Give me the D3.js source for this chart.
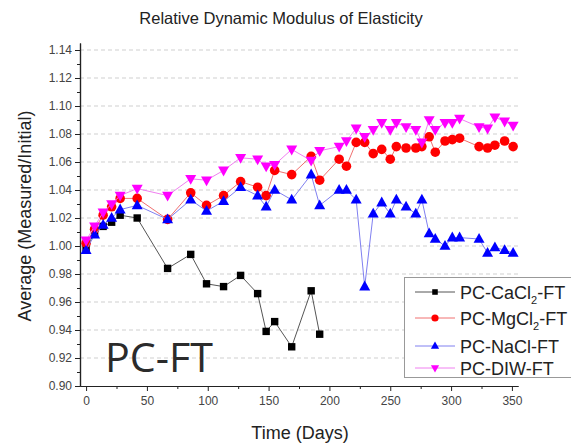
<!DOCTYPE html>
<html>
<head>
<meta charset="utf-8">
<script src="https://cdn.jsdelivr.net/npm/d3@7"></script>
<style>
  html, body { margin: 0; padding: 0; background: #fff; }
  svg { display: block; font-family: Arial, "Liberation Sans", sans-serif; }
</style>
</head>
<body>
<svg id="chart" width="571" height="446"></svg>
<script>
// ---- data ----
const days = [0, 7, 14, 21, 28, 42, 67, 86, 99, 113, 127, 141, 148, 155, 169, 185, 192, 208, 214, 222, 229, 236, 243, 250, 255, 263, 271, 276, 282, 287, 295, 301, 307, 323, 330, 336, 344, 351];
const caCl2 = [0.999, 1.009, 1.014, 1.017, 1.022, 1.020, 0.984, 0.994, 0.973, 0.971, 0.979, 0.966, 0.939, 0.946, 0.928, 0.968, 0.937];
const mgCl2 = [1.002, 1.012, 1.022, 1.028, 1.034, 1.034, 1.019, 1.038, 1.029, 1.036, 1.046, 1.042, 1.036, 1.054, 1.051, 1.064, 1.047, 1.062, 1.057, 1.074, 1.074, 1.066, 1.069, 1.062, 1.071, 1.070, 1.070, 1.071, 1.078, 1.067, 1.075, 1.076, 1.077, 1.071, 1.070, 1.072, 1.075, 1.071];
const naCl = [0.997, 1.008, 1.015, 1.020, 1.026, 1.029, 1.019, 1.033, 1.025, 1.032, 1.042, 1.036, 1.028, 1.040, 1.033, 1.051, 1.029, 1.040, 1.040, 1.033, 0.971, 1.023, 1.031, 1.023, 1.033, 1.028, 1.023, 1.033, 1.009, 1.005, 1.000, 1.006, 1.006, 1.005, 0.995, 0.999, 0.997, 0.995];
const diw = [1.004, 1.014, 1.024, 1.030, 1.036, 1.041, 1.036, 1.048, 1.047, 1.054, 1.063, 1.062, 1.057, 1.058, 1.069, 1.061, 1.068, 1.071, 1.075, 1.084, 1.078, 1.083, 1.088, 1.083, 1.088, 1.085, 1.083, 1.074, 1.090, 1.083, 1.088, 1.088, 1.091, 1.085, 1.084, 1.092, 1.089, 1.086];
const seriesNames = ["PC-CaCl|2|-FT", "PC-MgCl|2|-FT", "PC-NaCl-FT", "PC-DIW-FT"];
const yTicks = [0.90, 0.92, 0.94, 0.96, 0.98, 1.00, 1.02, 1.04, 1.06, 1.08, 1.10, 1.12, 1.14];
const xTicks = [0, 50, 100, 150, 200, 250, 300, 350];

const series = [
  { name: seriesNames[0], values: caCl2, fill: "#000000", line: "#555555", shape: "square" },
  { name: seriesNames[1], values: mgCl2, fill: "#ff0000", line: "#f07070", shape: "circle" },
  { name: seriesNames[2], values: naCl,  fill: "#0000ff", line: "#8080f0", shape: "triangle" },
  { name: seriesNames[3], values: diw,   fill: "#ff00ff", line: "#f080f0", shape: "triangleDown" }
];

const svg = d3.select("#chart");
const x = d3.scaleLinear().domain([-5, 355]).range([80, 518]);
const y = d3.scaleLinear().domain([0.9, 1.145]).range([386, 43]);

// title
svg.append("text").attr("x", 281).attr("y", 24).attr("text-anchor", "middle")
  .attr("font-size", 16.5).attr("fill", "#222").text("Relative Dynamic Modulus of Elasticity");

// gridlines
svg.append("g").selectAll("line").data(yTicks.filter(d => d > 0.9)).join("line")
  .attr("x1", x(-5)).attr("x2", x(355))
  .attr("y1", d => y(d)).attr("y2", d => y(d))
  .attr("stroke", "#cfcfcf").attr("stroke-width", 1).attr("stroke-dasharray", "4,3");

// axes
const yMinor = d3.range(0.91, 1.14, 0.02);
const xMinor = d3.range(25, 355, 50);
const gy = svg.append("g").attr("transform", `translate(${x(-5)},0)`)
  .call(d3.axisLeft(y).tickValues(yMinor).tickSize(3).tickFormat("").tickSizeOuter(0));
const gy2 = svg.append("g").attr("transform", `translate(${x(-5)},0)`)
  .call(d3.axisLeft(y).tickValues(yTicks).tickSize(5).tickPadding(3).tickFormat(d3.format(".2f")).tickSizeOuter(0));
const gx = svg.append("g").attr("transform", `translate(0,${y(0.9)})`)
  .call(d3.axisBottom(x).tickValues(xMinor).tickSize(3).tickFormat("").tickSizeOuter(0));
const gx2 = svg.append("g").attr("transform", `translate(0,${y(0.9)})`)
  .call(d3.axisBottom(x).tickValues(xTicks).tickSize(5).tickPadding(5).tickSizeOuter(0));
[gy, gy2, gx, gx2].forEach(g => {
  g.selectAll("path").attr("stroke", "#222").attr("stroke-width", 1.2);
  g.selectAll("line").attr("stroke", "#222");
  g.selectAll("text").attr("font-size", 12).attr("fill", "#444").attr("font-family", "Arial, 'Liberation Sans', sans-serif");
});

// axis labels
svg.append("text").attr("x", 300).attr("y", 439).attr("text-anchor", "middle")
  .attr("font-size", 18).attr("fill", "#222").text("Time (Days)");
svg.append("text").attr("transform", "translate(31,216) rotate(-90)").attr("text-anchor", "middle")
  .attr("font-size", 18).attr("fill", "#222").text("Average (Measured/Initial)");

// marker drawing
function drawMarker(sel, shape, fill, k) {
  if (shape === "square") {
    sel.append("rect").attr("x", -3.7 * k).attr("y", -3.7 * k).attr("width", 7.4 * k).attr("height", 7.4 * k).attr("fill", fill);
  } else if (shape === "circle") {
    sel.append("circle").attr("r", 4.8 * k).attr("fill", fill);
  } else if (shape === "triangle") {
    sel.append("path").attr("d", `M0,${-6 * k}L${5.5 * k},${3.8 * k}L${-5.5 * k},${3.8 * k}Z`).attr("fill", fill);
  } else {
    sel.append("path").attr("d", `M0,${6 * k}L${5.5 * k},${-3.8 * k}L${-5.5 * k},${-3.8 * k}Z`).attr("fill", fill);
  }
}

const line = d3.line().x(d => x(d[0])).y(d => y(d[1]));
series.forEach(s => {
  const pts = s.values.map((v, i) => [days[i], v]);
  svg.append("path").datum(pts).attr("d", line).attr("fill", "none")
    .attr("stroke", s.line).attr("stroke-width", 1);
  const g = svg.append("g");
  pts.forEach(p => {
    const m = g.append("g").attr("transform", `translate(${x(p[0])},${y(p[1])})`);
    drawMarker(m, s.shape, s.fill, 1);
  });
});

// PC-FT label
svg.append("text").attr("x", 105).attr("y", 372).attr("font-size", 41)
  .attr("font-family", "'Open Sans', sans-serif").attr("fill", "#2b2b2b")
  .attr("textLength", 108).attr("lengthAdjust", "spacingAndGlyphs").text("PC-FT");

// legend
const lg = svg.append("g");
lg.append("rect").attr("x", 404.5).attr("y", 277.5).attr("width", 170).attr("height", 100)
  .attr("fill", "#fff").attr("stroke", "#999");
const rowY = [292, 318, 346, 368];
series.forEach((s, i) => {
  const ry = rowY[i];
  lg.append("line").attr("x1", 415).attr("x2", 455).attr("y1", ry).attr("y2", ry)
    .attr("stroke", s.line).attr("stroke-width", 1);
  drawMarker(lg.append("g").attr("transform", `translate(435,${ry})`), s.shape, s.fill, 0.75);
  const t = lg.append("text").attr("x", 460).attr("y", ry + 6.5).attr("font-size", 18).attr("fill", "#222");
  const parts = s.name.split("|");
  parts.forEach((p, k) => {
    if (k % 2 === 1) {
      t.append("tspan").attr("font-size", 11).attr("dy", 5).text(p);
    } else {
      const ts = t.append("tspan").text(p);
      if (k > 0) ts.attr("dy", -5);
    }
  });
});
</script>
</body>
</html>
